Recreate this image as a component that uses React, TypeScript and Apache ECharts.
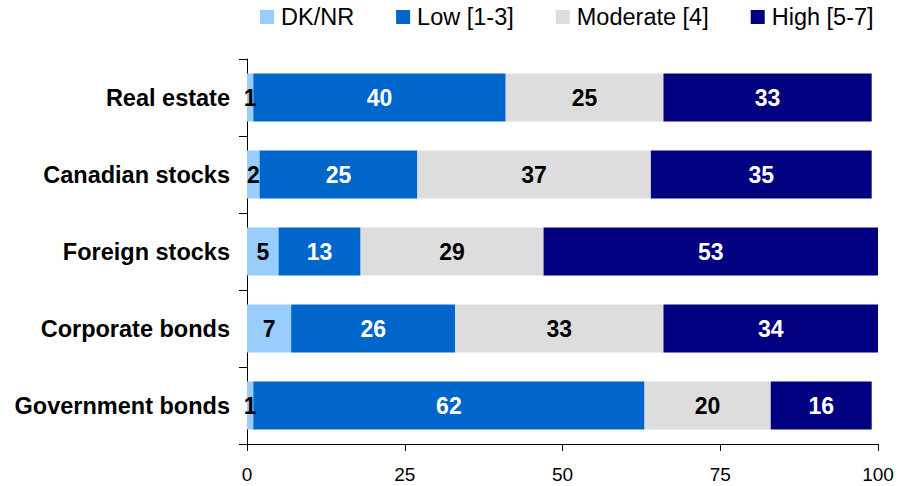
import React, { useEffect, useRef } from "react";
import * as echarts from "echarts";

// Asset classes, listed top to bottom
const categories = [
  "Real estate",
  "Canadian stocks",
  "Foreign stocks",
  "Corporate bonds",
  "Government bonds",
];

// Share of respondents (%) per risk rating
const dkNr = [1, 2, 5, 7, 1];
const low = [40, 25, 13, 26, 62];
const moderate = [25, 37, 29, 33, 20];
const high = [33, 35, 53, 34, 16];

const xTicks = [0, 25, 50, 75, 100];

const FONT = "'Liberation Sans', Arial, Helvetica, sans-serif";

const seriesDefs = [
  { name: "DK/NR", data: dkNr, color: "#99CCFF", labelColor: "#000000" },
  { name: "Low [1-3]", data: low, color: "#0066CC", labelColor: "#FFFFFF" },
  { name: "Moderate [4]", data: moderate, color: "#DDDDDD", labelColor: "#000000" },
  { name: "High [5-7]", data: high, color: "#000080", labelColor: "#FFFFFF" },
];

export default function App() {
  const ref = useRef<HTMLDivElement>(null);

  useEffect(() => {
    if (!ref.current) return;
    const chart = echarts.init(ref.current, undefined, { renderer: "svg" });
    chart.setOption({
      animation: false,
      backgroundColor: "#FFFFFF",
      legend: {
        top: 5,
        left: 260,
        padding: 0,
        itemWidth: 14,
        itemHeight: 14,
        itemGap: 42,
        icon: "rect",
        textStyle: {
          fontFamily: FONT,
          fontSize: 23.5,
          color: "#000000",
          padding: [0, 0, 0, 2],
        },
        data: seriesDefs.map((s) => s.name),
      },
      grid: {
        left: 247,
        right: 20,
        top: 59,
        bottom: 42,
        containLabel: false,
      },
      xAxis: {
        type: "value",
        min: xTicks[0],
        max: xTicks[xTicks.length - 1],
        interval: 25,
        axisLine: { show: true, lineStyle: { color: "#000000", width: 1 } },
        axisTick: { show: true, length: 7, lineStyle: { color: "#000000" } },
        splitLine: { show: false },
        axisLabel: {
          fontFamily: FONT,
          fontSize: 19,
          color: "#000000",
          margin: 21,
        },
      },
      yAxis: {
        type: "category",
        inverse: true,
        data: categories,
        axisLine: { show: true, lineStyle: { color: "#000000", width: 1 } },
        axisTick: { show: true, length: 8, lineStyle: { color: "#000000" } },
        axisLabel: {
          fontFamily: FONT,
          fontSize: 23.5,
          fontWeight: "bold",
          color: "#000000",
          margin: 17,
        },
      },
      series: seriesDefs.map((s) => ({
        name: s.name,
        type: "bar",
        stack: "total",
        barWidth: 48,
        data: s.data,
        itemStyle: { color: s.color },
        label: {
          show: true,
          position: "inside",
          fontFamily: FONT,
          fontSize: 23,
          fontWeight: "bold",
          color: s.labelColor,
        },
      })),
    });
    return () => chart.dispose();
  }, []);

  return (
    <div
      ref={ref}
      style={{ position: "absolute", left: 0, top: 0, width: 898, height: 486 }}
    />
  );
}
